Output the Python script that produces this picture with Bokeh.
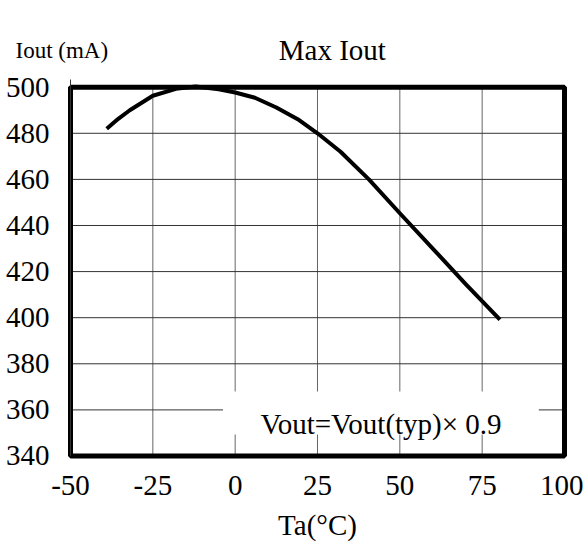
from bokeh.plotting import figure
from bokeh.models import Label, FixedTicker, Range1d
from bokeh.embed import file_html
from bokeh.resources import INLINE

# Data
ta = [-39, -35.5, -32, -25, -18, -12, -5, 0, 6, 12.5, 19, 25, 32, 40.6, 50, 60, 70, 80.4]
iout = [482, 486.3, 490, 496.3, 499.3, 500.3, 499.1, 497.7, 495.4, 491.2, 486.1, 480, 472, 460, 445.3, 430, 414.6, 399.2]

x_ticks = [-50, -25, 0, 25, 50, 75, 100]
y_ticks = [340, 360, 380, 400, 420, 440, 460, 480, 500]
x_tick_labels = {-50: "-50", -25: "-25"}

title_text = "Max Iout"
y_title_text = "Iout (mA)"
x_title_text = "Ta(°C)"
note_text = "Vout=Vout(typ)× 0.9"

FONT = "Liberation Serif"

X0, X1 = x_ticks[0], x_ticks[-1]
Y0, Y1 = y_ticks[0], y_ticks[-1]

# frame covers the whole canvas; the box -50..100 x 340..500 sits inside it
p = figure(width=583, height=547, output_backend="svg", toolbar_location=None,
           x_range=Range1d(-71.255, 105.77), y_range=Range1d(300.3, 537.61),
           min_border_left=0, min_border_right=0, min_border_top=0, min_border_bottom=0)

p.outline_line_color = None
p.background_fill_color = "white"
p.border_fill_color = "white"

for ax in (p.xaxis[0], p.yaxis[0]):
    ax.major_tick_line_color = None
    ax.minor_tick_line_color = None
    ax.major_label_text_font = FONT
    ax.major_label_text_font_size = "29px"
    ax.major_label_text_color = "black"

p.xaxis.fixed_location = Y0
p.yaxis.fixed_location = X0
p.xaxis.bounds = (X0, X1)
p.yaxis.bounds = (Y0, 503.5)
p.xaxis.axis_line_color = None
p.yaxis.axis_line_color = "#333333"
p.yaxis.axis_line_width = 1

p.xaxis.ticker = FixedTicker(ticks=x_ticks)
p.yaxis.ticker = FixedTicker(ticks=y_ticks)
p.xaxis.major_label_overrides = x_tick_labels
p.xaxis.major_label_standoff = 14
p.yaxis.major_label_standoff = 15

p.xaxis.axis_label = x_title_text
p.xaxis.axis_label_text_font = FONT
p.xaxis.axis_label_text_font_size = "29px"
p.xaxis.axis_label_text_font_style = "normal"
p.xaxis.axis_label_text_color = "black"
p.xaxis.axis_label_standoff = 11

# grid lines limited to the box
p.xgrid.visible = False
p.ygrid.visible = False
p.segment(x0=x_ticks, y0=[Y0] * len(x_ticks), x1=x_ticks, y1=[Y1] * len(x_ticks),
          line_color="#666666", line_width=1)
p.segment(x0=[X0] * len(y_ticks), y0=y_ticks, x1=[X1] * len(y_ticks), y1=y_ticks,
          line_color="#333333", line_width=1)

# white box behind the note
p.quad(left=[-3.7], right=[92.2], bottom=[349.3], top=[368.0],
       fill_color="white", line_color=None)

p.line(ta, iout, line_color="black", line_width=4, line_join="round")

# thick frame
p.quad(left=[X0], right=[X1], bottom=[Y0], top=[Y1],
       fill_color=None, line_color="black", line_width=5)

p.add_layout(Label(x=44.3, y=354.0, text=note_text, text_font=FONT,
                   text_font_size="29px", text_align="center",
                   text_baseline="alphabetic", text_color="black"))

p.add_layout(Label(x=13.25, y=516.2, text=title_text, text_font=FONT,
                   text_font_size="29px", text_align="left",
                   text_baseline="alphabetic", text_color="black"))

p.add_layout(Label(x=-66.7, y=515.9, text=y_title_text, text_font=FONT,
                   text_font_size="23px", text_align="left",
                   text_baseline="alphabetic", text_color="black"))

open("out.html", "w").write(file_html(p, INLINE))
